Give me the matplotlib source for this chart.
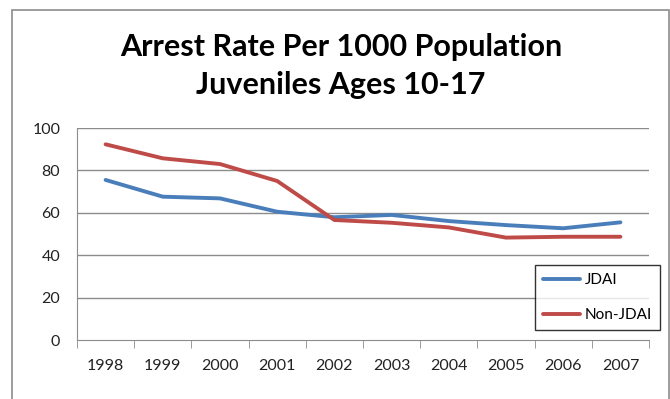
import matplotlib
matplotlib.use("Agg")
import matplotlib.pyplot as plt
from matplotlib.patches import Rectangle

years = ["1998", "1999", "2000", "2001", "2002", "2003", "2004", "2005", "2006", "2007"]
jdai = [75.5, 67.6, 66.8, 60.5, 57.9, 59.0, 56.1, 54.2, 52.7, 55.5]
non_jdai = [92.3, 85.7, 83.0, 75.0, 56.6, 55.3, 53.1, 48.3, 48.7, 48.7]
y_ticks = [0, 20, 40, 60, 80, 100]
title = "Arrest Rate Per 1000 Population\nJuveniles Ages 10-17"

plt.rcParams["font.family"] = ["Lato", "DejaVu Sans"]

W, H = 670, 399
fig = plt.figure(figsize=(W / 100, H / 100), dpi=100)

# outer chart frame
fig.patches.append(Rectangle((12 / W, -0.1), (669 - 12) / W, (H - 10) / H + 0.1,
                             transform=fig.transFigure, fill=False,
                             edgecolor="#8c8c8c", linewidth=1.2))

ax = fig.add_axes([77 / W, (H - 340) / H, (649 - 77) / W, (340 - 128) / H])
x = list(range(len(years)))
ax.plot(x, jdai, color="#4a7ebb", linewidth=2.8, solid_capstyle="round", label="JDAI")
ax.plot(x, non_jdai, color="#be4b48", linewidth=2.8, solid_capstyle="round", label="Non-JDAI")

ax.set_xlim(-0.5, len(years) - 0.5)
ax.set_ylim(0, 100)
ax.set_yticks(y_ticks)
ax.set_yticklabels([str(v) for v in y_ticks], fontsize=11.5, color="#222222")
ax.set_xticks(x)
ax.set_xticklabels(years, fontsize=11.5, color="#222222")
ax.tick_params(axis="y", length=0, pad=12)
ax.tick_params(axis="x", length=0, pad=14)
# category boundary ticks
ax.set_xticks([i - 0.5 for i in range(len(years) + 1)], minor=True)
ax.tick_params(axis="x", which="minor", length=6, color="#8c8c8c", direction="out")

for v in y_ticks[1:]:
    ax.axhline(v, color="#8c8c8c", linewidth=1.0, zorder=0)
for s in ["top", "right"]:
    ax.spines[s].set_visible(False)
ax.spines["left"].set_color("#8c8c8c")
ax.spines["bottom"].set_color("#8c8c8c")

fig.text(341 / W, 1 - 66 / H, title, ha="center", va="center",
         fontsize=22, fontweight="bold", linespacing=1.4)

leg = ax.legend(loc="upper left",
                bbox_to_anchor=((535 - 77) / (649 - 77), (340 - 265) / (340 - 128)),
                borderaxespad=0, frameon=True, fancybox=False, fontsize=11,
                handlelength=2.4, labelspacing=1.35, borderpad=0.55,
                handletextpad=0.3)
leg.get_frame().set_edgecolor("black")
leg.get_frame().set_linewidth(1.0)

fig.savefig("out.png", dpi=100)
